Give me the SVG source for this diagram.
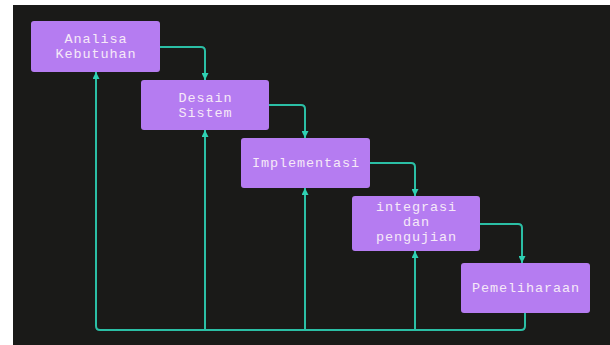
<svg xmlns="http://www.w3.org/2000/svg" width="610" height="345" viewBox="0 0 610 345">
  <style>
    .node rect { fill: #b57cf1; }
    .node text { fill: #f6e9f8; font-family: "Liberation Mono", "DejaVu Sans Mono", monospace; font-size: 13.5px; letter-spacing: 0.9px; text-anchor: middle; }
    .link { fill: none; stroke: #2bbfa5; stroke-width: 2; stroke-linejoin: round; }
  </style>
  <defs>
    <marker id="arrow" viewBox="0 0 10 10" refX="10" refY="5" markerWidth="8" markerHeight="7" markerUnits="userSpaceOnUse" orient="auto">
      <path d="M0,0 L10,5 L0,10 z" fill="#2fd1b3"/>
    </marker>
  </defs>

  <rect x="0" y="0" width="610" height="345" fill="#ffffff"/>
  <rect x="13" y="5" width="597" height="340" fill="#1a1a18"/>

  <g id="connectors">
    <!-- forward flow, stage to stage -->
    <path class="link" d="M160,47 H201 Q205,47 205,51 V80" marker-end="url(#arrow)"/>
    <path class="link" d="M269,105 H301 Q305,105 305,109 V138" marker-end="url(#arrow)"/>
    <path class="link" d="M370,163 H411 Q415,163 415,167 V196" marker-end="url(#arrow)"/>
    <path class="link" d="M480,224 H518 Q522,224 522,228 V263" marker-end="url(#arrow)"/>
    <!-- feedback loop from maintenance -->
    <path class="link" d="M525,313 V326 Q525,330 521,330 H100 Q96,330 96,326 V72" marker-end="url(#arrow)"/>
    <path class="link" d="M205,330 V130" marker-end="url(#arrow)"/>
    <path class="link" d="M305,330 V188" marker-end="url(#arrow)"/>
    <path class="link" d="M415,330 V251" marker-end="url(#arrow)"/>
  </g>

  <g id="analisa" class="node">
    <rect x="31" y="21" width="129" height="51" rx="3"/>
    <text x="96" y="43">Analisa</text>
    <text x="96" y="58">Kebutuhan</text>
  </g>
  <g id="desain" class="node">
    <rect x="141" y="80" width="128" height="50" rx="3"/>
    <text x="205.5" y="102">Desain</text>
    <text x="205.5" y="117">Sistem</text>
  </g>
  <g id="implementasi" class="node">
    <rect x="241" y="138" width="129" height="50" rx="3"/>
    <text x="306" y="167">Implementasi</text>
  </g>
  <g id="integrasi" class="node">
    <rect x="352" y="196" width="128" height="55" rx="3"/>
    <text x="416.5" y="211">integrasi</text>
    <text x="416.5" y="226">dan</text>
    <text x="416.5" y="241">pengujian</text>
  </g>
  <g id="pemeliharaan" class="node">
    <rect x="461" y="263" width="129" height="50" rx="3"/>
    <text x="526" y="292">Pemeliharaan</text>
  </g>
</svg>
